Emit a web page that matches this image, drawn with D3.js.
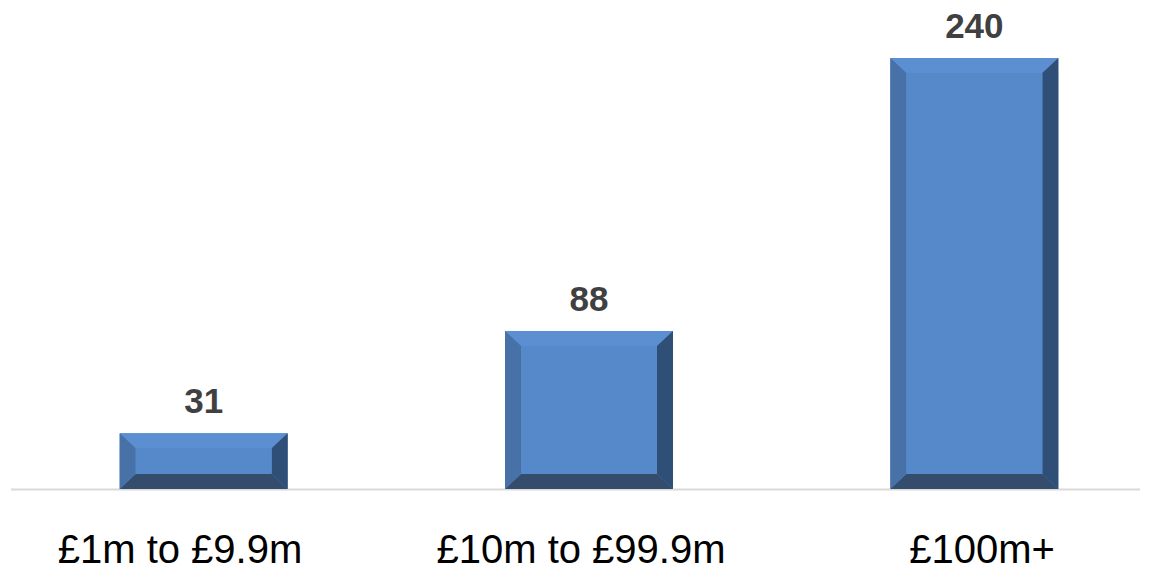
<!DOCTYPE html>
<html>
<head>
<meta charset="utf-8">
<script src="https://cdn.jsdelivr.net/npm/d3@7"></script>
<style>
  html, body { margin: 0; padding: 0; background: #fff; }
  svg { display: block; }
</style>
</head>
<body>
<svg id="chart" width="1151" height="571"></svg>
<script>
const categories = ["£1m to £9.9m", "£10m to £99.9m", "£100m+"];
const values = [31, 88, 240];
const valueLabels = ["31", "88", "240"];

const W = 1151, H = 571;
const svg = d3.select("#chart");

const x = d3.scaleBand().domain(categories).range([11, 1167]).paddingInner(0.564).paddingOuter(0.282);
const y = d3.scaleLinear().domain([0, 240]).range([489, 58]);
const xl = d3.scalePoint().domain(categories).range([180, 982]);

// axis baseline
svg.append("line")
  .attr("x1", 11).attr("x2", 1140)
  .attr("y1", y(0) + 0.5).attr("y2", y(0) + 0.5)
  .attr("stroke", "#d9d9d9").attr("stroke-width", 2);

const bw = 16, bh = 15;
const colors = { face: "#5689C9", top: "#5B8FD1", left: "#4771A7", right: "#2F4F77", bottom: "#344D6C" };

const g = svg.selectAll("g.bar").data(categories.map((c, i) => ({ c, v: values[i], l: valueLabels[i] })))
  .enter().append("g").attr("class", "bar");

g.each(function(d) {
  const sel = d3.select(this);
  const x0 = x(d.c), x1 = x0 + x.bandwidth();
  const y0 = y(d.v), y1 = y(0);
  const pts = {
    top: [[x0, y0], [x1, y0], [x1 - bw, y0 + bh], [x0 + bw, y0 + bh]],
    bottom: [[x0, y1], [x1, y1], [x1 - bw, y1 - bh], [x0 + bw, y1 - bh]],
    left: [[x0, y0], [x0 + bw, y0 + bh], [x0 + bw, y1 - bh], [x0, y1]],
    right: [[x1, y0], [x1 - bw, y0 + bh], [x1 - bw, y1 - bh], [x1, y1]]
  };
  sel.append("rect").attr("x", x0).attr("y", y0).attr("width", x1 - x0).attr("height", y1 - y0).attr("fill", colors.face);
  ["top", "bottom", "left", "right"].forEach(k => {
    sel.append("polygon").attr("points", pts[k].map(p => p.join(",")).join(" ")).attr("fill", colors[k]);
  });
  sel.append("rect").attr("x", x0 + bw).attr("y", y0 + bh).attr("width", x1 - x0 - 2 * bw).attr("height", Math.max(0, y1 - y0 - 2 * bh)).attr("fill", colors.face);
  sel.append("text")
    .attr("x", (x0 + x1) / 2).attr("y", y0 - 20)
    .attr("text-anchor", "middle")
    .attr("font-family", "Liberation Sans, Arial, sans-serif")
    .attr("font-weight", "bold")
    .attr("font-size", 35)
    .attr("fill", "#404040")
    .text(d.l);
});

svg.selectAll("text.cat").data(categories).enter().append("text")
  .attr("class", "cat")
  .attr("x", d => xl(d)).attr("y", 563)
  .attr("text-anchor", "middle")
  .attr("font-family", "Liberation Sans, Arial, sans-serif")
  .attr("font-size", 40)
  .attr("fill", "#000")
  .text(d => d);
</script>
</body>
</html>
